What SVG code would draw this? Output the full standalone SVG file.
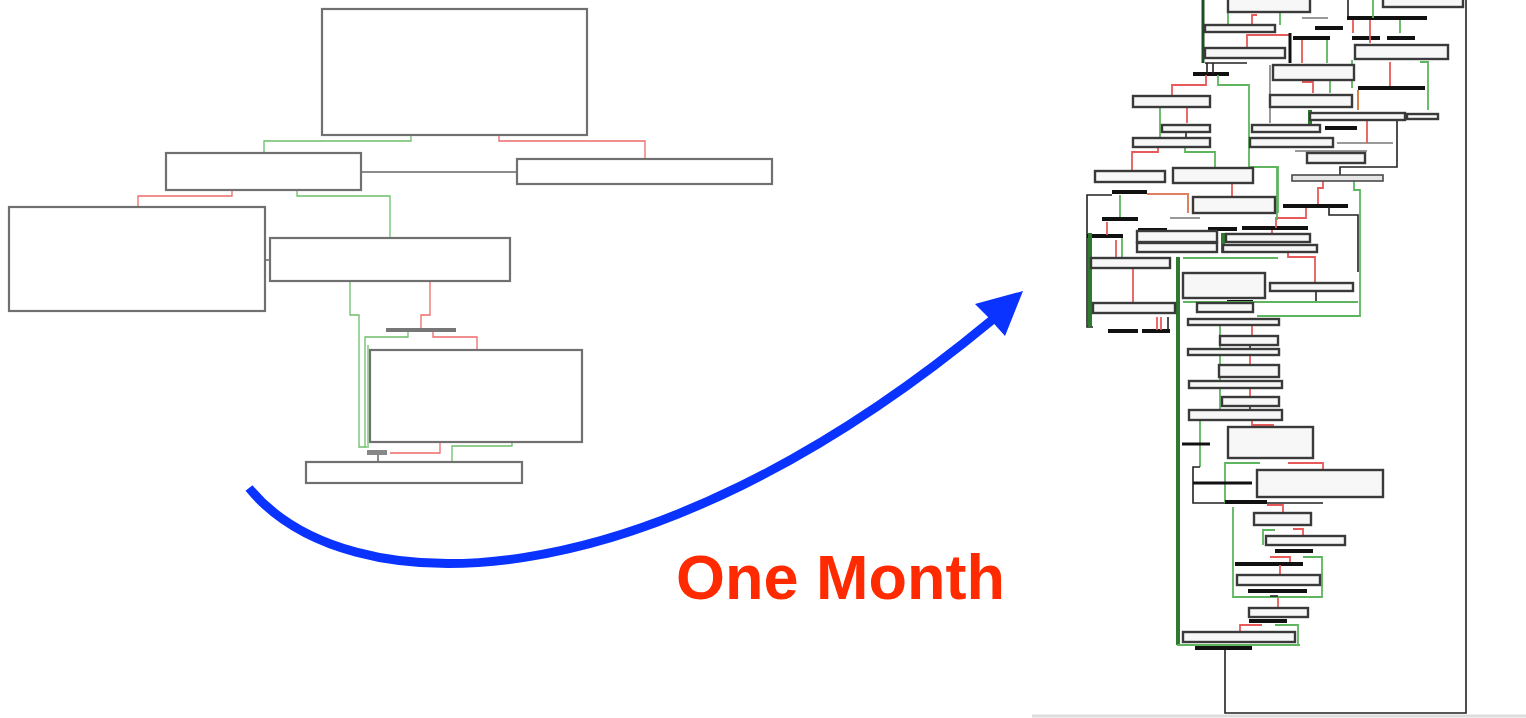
<svg xmlns="http://www.w3.org/2000/svg" width="1526" height="718" viewBox="0 0 1526 718">
<style>
.lb{fill:#fff;stroke:#707070;stroke-width:2.2}
.rb{fill:#f7f7f7;stroke:#3a3a3a;stroke-width:2.4}
.rg{fill:#e6e6e6;stroke:#4a4a4a;stroke-width:1.6}
.lg{fill:none;stroke:#6cbf6c;stroke-width:1.3}
.lr{fill:none;stroke:#ee6a6a;stroke-width:1.3}
.lk{fill:none;stroke:#666;stroke-width:1.5}
.g{fill:none;stroke:#5fb55f;stroke-width:1.8}
.gd{fill:none;stroke:#2f7a2f;stroke-width:4}
.r{fill:none;stroke:#e85a5a;stroke-width:1.8}
.k{fill:none;stroke:#222;stroke-width:1.6}
.b{fill:none;stroke:#111;stroke-width:4}
.gr{fill:none;stroke:#999;stroke-width:2}
.label{font-family:"Liberation Sans",Arial,sans-serif;font-weight:bold;font-size:63px;fill:#ff2a00}
</style>

<!-- LEFT DIAGRAM -->
<g id="left-connectors">
<path class="lg" d="M411,135 V141 H264 V153"/>
<path class="lr" d="M499,135 V141 H645 V159"/>
<path class="lk" d="M361,172 H517"/>
<path class="lr" d="M232,190 V196 H138 V207"/>
<path class="lg" d="M297,190 V196 H390 V238"/>
<path class="lk" d="M265,260 H270"/>
<path class="lg" d="M350,281 V315 H359 V447 H367"/>
<path class="lr" d="M430,281 V315 H421 V328"/>
<path class="lg" d="M408,332 V337 H365 V447"/>
<path class="lg" d="M368,345 V448"/>
<path class="lr" d="M433,332 V337 H477 V350"/>
<path class="lk" d="M378,455 V462"/>
<path class="lr" d="M440,442 V453 H390"/>
<path class="lg" d="M512,442 V446 H452 V462"/>
</g>
<g id="nodeA"><rect class="lb" x="322" y="9" width="265" height="126"/></g>
<g id="nodeB"><rect class="lb" x="166" y="153" width="195" height="37"/></g>
<g id="nodeC"><rect class="lb" x="517" y="159" width="255" height="25"/></g>
<g id="nodeD"><rect class="lb" x="9" y="207" width="256" height="104"/></g>
<g id="nodeE"><rect class="lb" x="270" y="238" width="240" height="43"/></g>
<g id="nodeF"><rect x="386" y="328" width="70" height="4" fill="#777"/></g>
<g id="nodeG"><rect class="lb" x="370" y="350" width="212" height="92"/></g>
<g id="nodeH"><rect x="367" y="450" width="20" height="5" fill="#888"/></g>
<g id="nodeI"><rect class="lb" x="306" y="462" width="216" height="21"/></g>

<!-- BLUE ARROW -->
<g id="arrow">
<path d="M249,488 C345,605 640,612 992,320" fill="none" stroke="#0a33ff" stroke-width="9"/>
<polygon points="1023,291 975,304 988,317 1005,336" fill="#0a33ff"/>
</g>
<text class="label" x="676" y="599">One Month</text>

<!-- RIGHT DIAGRAM -->
<g id="right-connectors">
<path d="M1032,716 H1526" stroke="#ddd" stroke-width="3" fill="none"/>
<path class="k" d="M1225,648 V713 H1466 V0"/>
<path d="M1203,0 V63" stroke="#1f4f1f" stroke-width="3" fill="none"/>
<path class="k" d="M1205,63 H1247"/>
<path class="g" d="M1228,12 V25"/>
<path class="r" d="M1252,25 V15 H1257"/>
<path class="g" d="M1280,13 V25"/>
<path class="r" d="M1247,48 V35 H1290"/>
<path class="b" d="M1293,38 H1330"/>
<path class="gr" d="M1302,18 H1328"/>
<path class="b" d="M1315,28 H1343"/>
<path d="M1290,33 V63" stroke="#111" stroke-width="3" fill="none"/>
<path class="r" d="M1302,40 V63"/>
<path class="g" d="M1327,40 V63"/>
<path class="k" d="M1348,0 V18"/>
<path class="b" d="M1347,18 H1427"/>
<path class="b" d="M1352,38 H1380 M1387,38 H1415"/>
<path class="r" d="M1353,20 V33 M1370,20 V43"/>
<path class="g" d="M1373,0 V18 M1400,20 V33"/>
<path class="gr" d="M1270,65 V123"/>
<path class="r" d="M1302,82 H1313 V93"/>
<path class="g" d="M1330,80 V93"/>
<path class="r" d="M1390,62 V87"/>
<path class="g" d="M1420,62 H1428 V110"/>
<path class="g" d="M1352,60 V88"/>
<path class="b" d="M1358,88 H1425"/>
<path d="M1358,90 V110" stroke="#d9804a" stroke-width="2" fill="none"/>
<path class="k" d="M1397,120 V167 H1340 V175"/>
<path class="b" d="M1325,128 H1357"/>
<path class="gd" d="M1310,110 V125"/>
<path class="gr" d="M1337,143 H1393 M1295,151 H1367"/>
<path class="r" d="M1367,120 V143"/>
<path class="b" d="M1193,74 H1229"/>
<path class="k" d="M1213,63 V74 M1207,63 V74"/>
<path class="r" d="M1206,75 V85 H1172 V96"/>
<path class="g" d="M1218,75 V85 H1249 V167 H1278 V213"/>
<path class="g" d="M1160,107 V137"/>
<path class="r" d="M1187,107 V123"/>
<path class="k" d="M1186,132 V138"/>
<path class="r" d="M1158,148 V152 H1132 V171"/>
<path class="g" d="M1185,147 V152 H1215 V168"/>
<path class="b" d="M1112,192 H1147"/>
<path class="k" d="M1112,195 H1087 V327 H1093"/>
<path d="M1147,194 H1188 V213" stroke="#e08060" stroke-width="2" fill="none"/>
<path class="g" d="M1120,195 V218"/>
<path class="b" d="M1102,219 H1138"/>
<path class="b" d="M1087,236 H1123"/>
<path class="r" d="M1107,222 V235"/>
<path class="r" d="M1116,240 V257"/>
<path class="g" d="M1122,238 V257"/>
<path class="b" d="M1242,228 H1308"/>
<path class="b" d="M1208,229 H1237"/>
<path class="b" d="M1138,230 H1167"/>
<path class="b" d="M1283,206 H1348"/>
<path class="gr" d="M1170,218 H1200"/>
<path class="r" d="M1232,184 V197"/>
<path class="r" d="M1323,181 V188 H1318 V204"/>
<path class="g" d="M1354,181 V190 H1360 V317"/>
<path class="k" d="M1329,207 V215 H1358 V272"/>
<path class="r" d="M1306,208 V218 H1276 V228"/>
<path class="r" d="M1288,252 V257 H1315 V283"/>
<path class="r" d="M1272,230 V243"/>
<path class="gd" d="M1223,233 V253"/>
<path class="g" d="M1183,258 H1278"/>
<path class="g" d="M1277,167 V220"/>
<path class="k" d="M1316,291 V302"/>
<path class="b" d="M1227,302 H1253"/>
<path class="b" d="M1108,331 H1138 M1142,331 H1170"/>
<path class="gd" d="M1178,257 V645"/>
<path class="gd" d="M1090,233 V327"/>
<path class="g" d="M1183,302 H1358"/>
<path class="g" d="M1257,316 H1360"/>
<path class="r" d="M1133,268 V303"/>
<path class="r" d="M1157,317 V330 M1161,317 V330"/>
<path class="k" d="M1168,317 V330"/>
<path class="r" d="M1252,325 V336"/>
<path class="g" d="M1220,325 V413 H1230"/>
<path class="k" d="M1250,345 V349"/>
<path class="r" d="M1250,355 V365"/>
<path class="r" d="M1250,388 V397"/>
<path class="k" d="M1250,406 V410"/>
<path class="r" d="M1252,420 V425 H1273 V427"/>
<path class="g" d="M1200,420 V467"/>
<path class="k" d="M1200,467 H1193 V503 H1323"/>
<path d="M1182,444 H1210" stroke="#111" stroke-width="3" fill="none"/>
<path class="g" d="M1260,463 H1225 V503"/>
<path class="r" d="M1288,463 H1323 V470"/>
<path d="M1193,483 H1252" stroke="#111" stroke-width="3" fill="none"/>
<path class="b" d="M1225,502 H1267"/>
<path class="g" d="M1233,507 V597 H1322 V557 H1303"/>
<path class="r" d="M1267,505 H1283 V512"/>
<path class="g" d="M1263,545 V530 H1275"/>
<path class="r" d="M1293,529 H1303 V535"/>
<path class="b" d="M1275,551 H1313"/>
<path class="r" d="M1270,557 H1290 V563"/>
<path class="b" d="M1235,564 H1303"/>
<path class="r" d="M1280,565 V575"/>
<path class="b" d="M1248,591 H1307"/>
<path class="k" d="M1270,596 H1278"/>
<path class="r" d="M1278,598 V607"/>
<path class="b" d="M1249,621 H1287"/>
<path class="r" d="M1262,625 H1240 V632"/>
<path class="g" d="M1275,625 H1298 V645"/>
<path class="g" d="M1177,645 H1300"/>
<path class="b" d="M1195,648 H1252"/>
</g>

<g id="rn1"><rect class="rb" x="1228" y="-2" width="82" height="14"/></g>
<g id="rn2"><rect class="rb" x="1205" y="25" width="70" height="7"/></g>
<g id="rn3"><rect class="rb" x="1205" y="48" width="80" height="10"/></g>
<g id="rn4"><rect class="rb" x="1383" y="-2" width="80" height="9"/></g>
<g id="rn5"><rect class="rb" x="1355" y="45" width="93" height="14"/></g>
<g id="rn6"><rect class="rb" x="1273" y="65" width="81" height="15"/></g>
<g id="rn7"><rect class="rb" x="1270" y="95" width="82" height="12"/></g>
<g id="rn8"><rect class="rb" x="1310" y="113" width="95" height="7"/></g>
<g id="rn9"><rect class="rb" x="1407" y="114" width="31" height="5"/></g>
<g id="rn10"><rect class="rb" x="1252" y="125" width="68" height="7"/></g>
<g id="rn11"><rect class="rb" x="1250" y="138" width="83" height="9"/></g>
<g id="rn12"><rect class="rb" x="1307" y="153" width="58" height="10"/></g>
<g id="rn13"><rect class="rg" x="1292" y="175" width="91" height="6"/></g>
<g id="rn14"><rect class="rb" x="1133" y="96" width="77" height="11"/></g>
<g id="rn15"><rect class="rb" x="1162" y="125" width="48" height="7"/></g>
<g id="rn16"><rect class="rb" x="1133" y="138" width="77" height="9"/></g>
<g id="rn17"><rect class="rb" x="1095" y="171" width="70" height="11"/></g>
<g id="rn18"><rect class="rb" x="1173" y="168" width="80" height="15"/></g>
<g id="rn19"><rect class="rb" x="1193" y="197" width="82" height="16"/></g>
<g id="rn20"><rect class="rb" x="1137" y="231" width="80" height="11"/></g>
<g id="rn21"><rect class="rb" x="1137" y="243" width="80" height="9"/></g>
<g id="rn22"><rect class="rb" x="1226" y="234" width="84" height="8"/></g>
<g id="rn23"><rect class="rb" x="1223" y="245" width="94" height="7"/></g>
<g id="rn24"><rect class="rb" x="1091" y="258" width="79" height="10"/></g>
<g id="rn25"><rect class="rb" x="1183" y="273" width="82" height="25"/></g>
<g id="rn26"><rect class="rb" x="1270" y="283" width="83" height="8"/></g>
<g id="rn27"><rect class="rb" x="1093" y="303" width="82" height="10"/></g>
<g id="rn28"><rect class="rb" x="1197" y="303" width="56" height="9"/></g>
<g id="rn29"><rect class="rb" x="1188" y="319" width="91" height="6"/></g>
<g id="rn30"><rect class="rb" x="1220" y="336" width="58" height="9"/></g>
<g id="rn31"><rect class="rb" x="1188" y="349" width="91" height="6"/></g>
<g id="rn32"><rect class="rb" x="1219" y="365" width="60" height="12"/></g>
<g id="rn33"><rect class="rb" x="1189" y="381" width="93" height="7"/></g>
<g id="rn34"><rect class="rb" x="1222" y="397" width="57" height="9"/></g>
<g id="rn35"><rect class="rb" x="1189" y="410" width="93" height="10"/></g>
<g id="rn36"><rect class="rb" x="1228" y="427" width="85" height="31"/></g>
<g id="rn37"><rect class="rb" x="1257" y="470" width="126" height="27"/></g>
<g id="rn38"><rect class="rb" x="1254" y="513" width="57" height="12"/></g>
<g id="rn39"><rect class="rb" x="1266" y="536" width="79" height="9"/></g>
<g id="rn40"><rect class="rb" x="1237" y="575" width="83" height="10"/></g>
<g id="rn41"><rect class="rb" x="1249" y="608" width="59" height="9"/></g>
<g id="rn42"><rect class="rb" x="1183" y="632" width="112" height="10"/></g>
</svg>
